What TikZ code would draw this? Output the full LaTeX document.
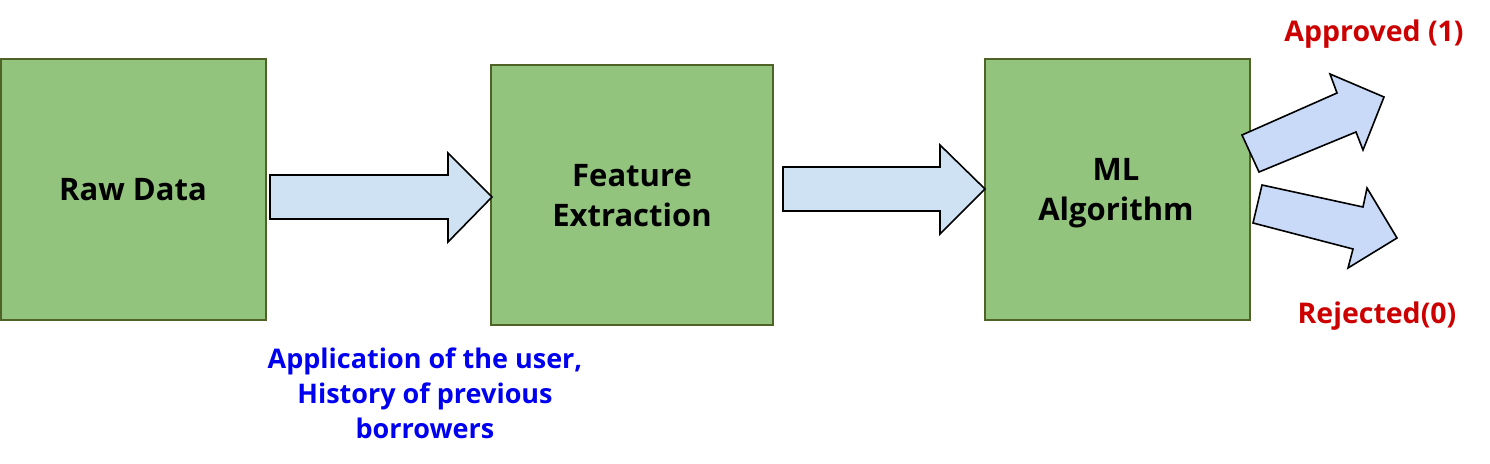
\documentclass[tikz,border=0pt]{standalone}
\usepackage{fontspec}
\setmainfont{Open Sans}
\begin{document}
\begin{tikzpicture}[x=1pt,y=-1pt,
  box/.style={draw=boxborder,fill=boxfill,line width=2pt},
  blockarrow/.style={draw=black,line width=1.6pt,line join=miter},
  boxtext/.style={font=\fontsize{31}{40}\selectfont\bfseries,align=center,text=black},
  bluetext/.style={font=\fontsize{27}{35}\selectfont\bfseries,align=center,text=noteblue},
  redtext/.style={font=\fontsize{28.5}{30}\selectfont\bfseries,text=outred}]
\definecolor{boxfill}{HTML}{93C47D}
\definecolor{boxborder}{HTML}{4F6228}
\definecolor{arrowfill}{HTML}{CFE2F3}
\definecolor{arrowfillb}{HTML}{C9DAF8}
\definecolor{noteblue}{HTML}{0000F0}
\definecolor{outred}{HTML}{CC0000}
\useasboundingbox (0,0) rectangle (1490,463);
% boxes
\draw[box] (1,59) rectangle (266,320);
\draw[box] (491,65) rectangle (773,325);
\draw[box] (985,59) rectangle (1250,320);
\node[boxtext] (raw) at (133,190) {Raw Data};
\node[boxtext] (feat) at (632,196) {Feature\\Extraction};
\node[boxtext] (ml) at (1116,193) {ML\\Algorithm};
% block arrows
\draw[blockarrow,fill=arrowfill] (270,175) -- (448,175) -- (448,153) -- (492,197) -- (448,242) -- (448,219) -- (270,219) -- cycle;
\draw[blockarrow,fill=arrowfill] (783,167) -- (940,167) -- (940,145) -- (985,189) -- (940,234) -- (940,211) -- (783,211) -- cycle;
\draw[blockarrow,fill=arrowfillb] (1242,135) -- (1337,93) -- (1330,74) -- (1384,97) -- (1363,150) -- (1356,132) -- (1259,172) -- cycle;
\draw[blockarrow,fill=arrowfillb] (1262,185) -- (1363,207) -- (1367,188) -- (1397,238) -- (1348,268) -- (1353,249) -- (1253,223) -- cycle;
% labels
\node[bluetext] (note) at (425,393) {Application of the user,\\History of previous\\borrowers};
\node[redtext] (appr) at (1374,34) {Approved (1)};
\node[redtext] (rej) at (1377,316) {Rejected(0)};
\end{tikzpicture}
\end{document}
